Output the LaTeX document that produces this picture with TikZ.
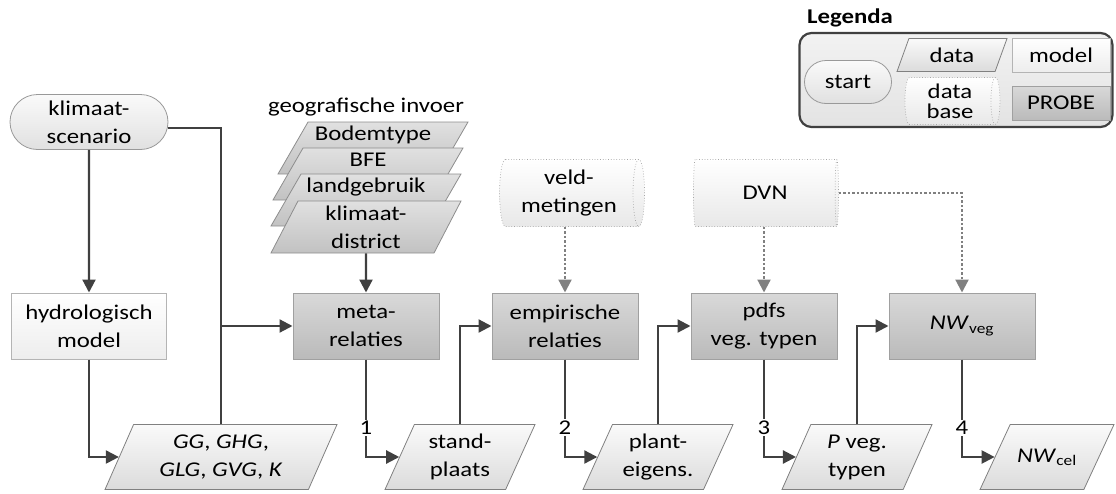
\documentclass[tikz,border=0pt]{standalone}
\usepackage{fontspec}
\setmainfont{Carlito}[FakeStretch=1.18]
\usetikzlibrary{shapes.geometric,shapes.misc,arrows.meta,positioning}

\definecolor{lijngrijs}{HTML}{404040}
\definecolor{stipgrijs}{HTML}{808080}
\definecolor{proberand}{HTML}{A0A0A0}
\definecolor{modelrand}{HTML}{B4B4B4}
\definecolor{datarand}{HTML}{808080}

\begin{document}
\begin{tikzpicture}[x=1pt, y=-1pt,
	every node/.style={font=\fontsize{21}{28}\selectfont, align=center, inner sep=0pt},
	probebox/.style={rectangle, draw=proberand, line width=1pt, top color=black!15, bottom color=black!27,
		minimum width=146pt, minimum height=66pt},
	modelbox/.style={rectangle, draw=modelrand, line width=1pt, top color=white, bottom color=black!7,
		minimum width=155pt, minimum height=66pt},
	startbox/.style={rounded rectangle, draw=datarand!80, line width=0.8pt, top color=black!2, bottom color=black!12,
		minimum width=158pt, minimum height=55pt},
	databox/.style={trapezium, trapezium left angle=65, trapezium right angle=115, trapezium stretches body,
		draw=datarand, line width=0.8pt, top color=black!2, bottom color=black!14,
		inner ysep=8.5pt, minimum width=150pt, minimum height=65pt},
	sheet/.style={trapezium, trapezium left angle=60, trapezium right angle=120, trapezium stretches body,
		draw=datarand!90, line width=0.8pt, top color=black!12, bottom color=black!24,
		text height=18pt, text depth=34pt, minimum width=190pt, minimum height=52pt},
	dbbox/.style={cylinder, aspect=0.25, draw=black!35, dotted, line width=0.7pt, top color=white, bottom color=black!9,
		minimum width=67pt, minimum height=145pt},
	legbox/.style={rectangle, rounded corners=12pt, draw=lijngrijs, line width=2.2pt, top color=black!5, bottom color=black!11,
		minimum width=313pt, minimum height=94pt},
	pijl/.style={draw=lijngrijs, line width=2.2pt, -{Triangle[length=13pt,width=13pt]}},
	lijn/.style={draw=lijngrijs, line width=2.2pt},
	stippijl/.style={draw=stipgrijs, line width=2.2pt, dash pattern=on 2.5pt off 2pt, -{Triangle[length=13pt,width=13pt]}},
	nummer/.style={fill=white, inner sep=1.5pt}]
	\useasboundingbox (0,0) rectangle (1116,493);

	% legenda
	\node[font=\bfseries\fontsize{21}{28}\selectfont, anchor=west] (legtitel) at (807,18) {Legenda};
	\node[legbox] (legenda) at (956,80) {};
	\node[startbox, minimum width=87pt, minimum height=43pt] (legstart) at (848,82) {start};
	\node[databox, trapezium left angle=70, trapezium right angle=110, inner ysep=9pt,
		minimum width=110pt, minimum height=33pt] (legdata) at (952,55) {data};
	\node[modelbox, minimum width=98pt, minimum height=34pt] (legmodel) at (1061,55) {model};
	\node[dbbox, aspect=0.26, minimum width=47pt, minimum height=95pt, font=\fontsize{21}{20}\selectfont] (legdb) at (950,101) {data\\base};
	\node[probebox, minimum width=98pt, minimum height=34pt] (legprobe) at (1061,103) {PROBE};

	% invoer
	\node[startbox] (klimaat) at (89,122) {klimaat-\\scenario};
	\node (geotitel) at (366,107) {geografische invoer};
	\node[sheet] (bodem) at (373,148) {Bodemtype};
	\node[sheet] (bfe) at (368,174) {BFE};
	\node[sheet] (landgebruik) at (366,200) {landgebruik};
	\node[sheet, text height=, text depth=, inner ysep=2pt] (district) at (366,227) {klimaat-\\district};
	\node[dbbox] (veld) at (569,193) {veld-\\metingen};
	\node[dbbox] (dvn) at (765,193) {DVN};

	% modellen
	\node[modelbox] (hydro) at (89,326) {hydrologisch\\model};
	\node[probebox] (meta) at (366,326) {meta-\\relaties};
	\node[probebox] (empirisch) at (565,326) {empirische\\relaties};
	\node[probebox] (pdfs) at (764,326) {pdfs\\veg. typen};
	\node[probebox] (nwveg) at (962,326) {\textit{NW}\textsubscript{veg}};

	% uitvoer
	\node[databox, minimum width=232pt] (gg) at (221,457) {\textit{GG}, \textit{GHG},\\\textit{GLG}, \textit{GVG}, \textit{K}};
	\node[databox] (standplaats) at (460,457) {stand-\\plaats};
	\node[databox] (planteig) at (658,457) {plant-\\eigens.};
	\node[databox] (pveg) at (857,457) {\textit{P} veg.\\typen};
	\node[databox, inner ysep=24pt, minimum width=134pt] (nwcel) at (1047,457) {\textit{NW}\textsubscript{cel}};

	% verbindingen
	\draw[pijl] (klimaat) -- (hydro);
	\draw[pijl] (hydro.south) |- (gg.left side);
	\draw[pijl] ([yshift=-6pt]klimaat.east) -| (gg.center |- meta.west) -- (meta.west);
	\draw[lijn] (gg.center |- gg.north) -- (gg.center |- meta.west);
	\draw[pijl] (district.south) -- (meta.north);
	\foreach \van/\naar/\nr in {meta/standplaats/1, empirisch/planteig/2, pdfs/pveg/3, nwveg/nwcel/4}
		\draw[pijl] (\van.south) |- node[nummer, pos=0.35] {\nr} (\naar.left side);
	\foreach \van/\naar in {standplaats/empirisch, planteig/pdfs, pveg/nwveg}
		\draw[pijl] (\van.center |- \van.north) |- (\naar.west);
	\draw[stippijl] (veld.south -| empirisch.north) -- (empirisch.north);
	\draw[stippijl] (dvn.south -| pdfs.north) -- (pdfs.north);
	\draw[stippijl] (dvn.east) -| (nwveg.north);
\end{tikzpicture}
\end{document}
